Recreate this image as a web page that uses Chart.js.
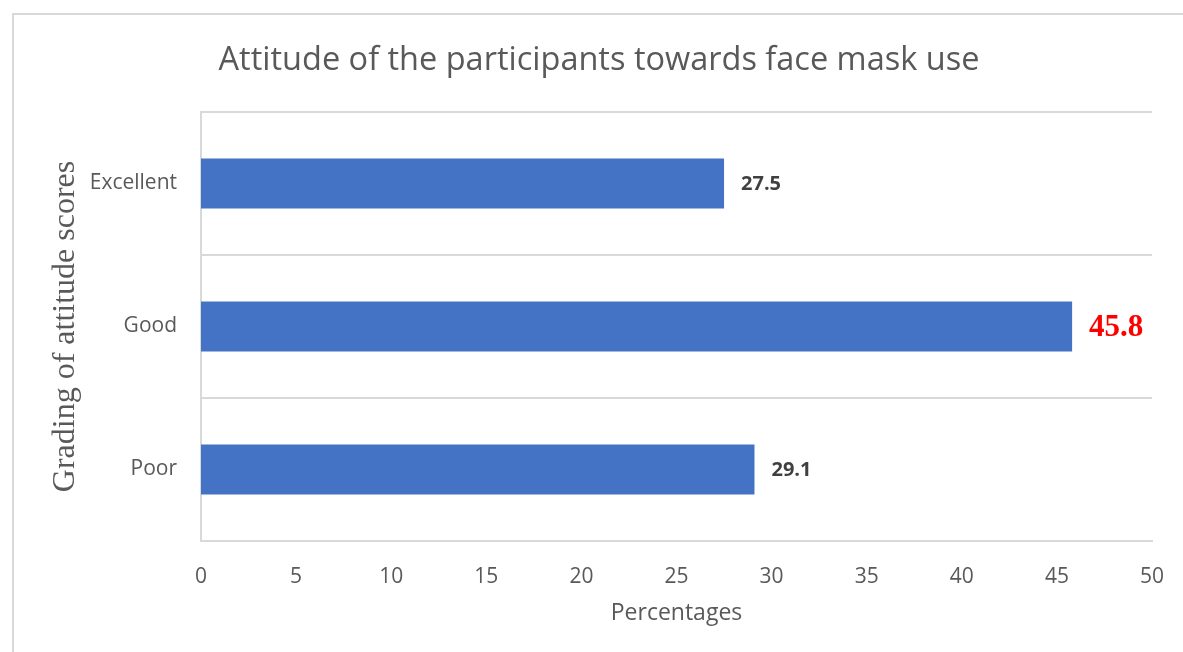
<!DOCTYPE html>
<html>
<head>
<meta charset="utf-8">
<title>Attitude towards face mask use</title>
<script src="https://cdn.jsdelivr.net/npm/chart.js@4.4.0/dist/chart.umd.min.js"></script>
<style>
  html, body { margin: 0; padding: 0; background: #ffffff; }
  #wrap { position: relative; width: 1183px; height: 652px; overflow: hidden; }
  #frame {
    position: absolute; left: 12px; top: 13px; right: -10px; bottom: -10px;
    border-left: 2px solid #d9d9d9; border-top: 2px solid #d9d9d9;
  }
  canvas { position: absolute; left: 0; top: 0; }
</style>
</head>
<body>
<div id="wrap">
  <div id="frame"></div>
  <canvas id="attitudeChart" width="1183" height="652"></canvas>
</div>
<script>
// grades of the attitude score and share of participants in each (%)
const grades = ['Excellent', 'Good', 'Poor'];
const percentages = [27.5, 45.8, 29.1];
const xTickMin = 0;
const xTickMax = 50;
const xTickStep = 5;

// value label look per bar (the "Good" share is highlighted)
const labelStyles = [
  { font: 'bold 20px "Open Sans"', color: '#404040' },
  { font: 'bold 31px "Liberation Serif", "Times New Roman", serif', color: '#ff0000' },
  { font: 'bold 20px "Open Sans"', color: '#404040' }
];

const GREY_TEXT = '#595959';
const GRID = '#d9d9d9';

// writes the value just past the end of each bar
const barValueLabels = {
  id: 'barValueLabels',
  afterDatasetsDraw(chart) {
    const ctx = chart.ctx;
    const meta = chart.getDatasetMeta(0);
    ctx.save();
    ctx.textAlign = 'left';
    ctx.textBaseline = 'middle';
    meta.data.forEach((bar, i) => {
      const style = labelStyles[i];
      ctx.font = style.font;
      ctx.fillStyle = style.color;
      ctx.fillText(percentages[i].toFixed(1), bar.x + 17, bar.y + 1);
    });
    ctx.restore();
  }
};

const ctx = document.getElementById('attitudeChart').getContext('2d');
new Chart(ctx, {
  type: 'bar',
  data: {
    labels: grades,
    datasets: [{
      data: percentages,
      backgroundColor: '#4472c4',
      borderWidth: 0,
      categoryPercentage: 1,
      barPercentage: 0.35
    }]
  },
  plugins: [barValueLabels],
  options: {
    indexAxis: 'y',
    responsive: false,
    animation: false,
    layout: { padding: { left: 46, top: 13, right: 31, bottom: 0 } },
    plugins: {
      legend: { display: false },
      tooltip: { enabled: false },
      title: {
        display: true,
        text: 'Attitude of the participants towards face mask use',
        color: GREY_TEXT,
        font: { family: '"Open Sans"', size: 32.5, weight: 'normal', lineHeight: 1.2 },
        padding: { top: 28, bottom: 32 }
      }
    },
    scales: {
      x: {
        min: xTickMin,
        max: xTickMax,
        afterFit(scale) { scale.height = 111; },
        grid: { display: false },
        border: { display: true, color: GRID, width: 2 },
        ticks: {
          stepSize: xTickStep,
          color: GREY_TEXT,
          padding: 15,
          font: { family: '"Open Sans"', size: 21 }
        },
        title: {
          display: true,
          text: 'Percentages',
          color: GREY_TEXT,
          font: { family: '"Open Sans"', size: 23, lineHeight: 1.2 },
          padding: { top: 0, bottom: 25 }
        }
      },
      y: {
        afterFit(scale) { scale.width = 155; },
        grid: { color: GRID, lineWidth: 2, drawTicks: false, offset: true },
        border: { display: true, color: GRID, width: 2 },
        ticks: {
          color: GREY_TEXT,
          padding: 24,
          font: { family: '"Open Sans"', size: 21 }
        },
        title: {
          display: true,
          text: 'Grading of attitude scores',
          color: GREY_TEXT,
          font: { family: '"Liberation Serif", "Times New Roman", serif', size: 32, lineHeight: 1.2 },
          padding: 0
        }
      }
    }
  }
});
</script>
</body>
</html>
